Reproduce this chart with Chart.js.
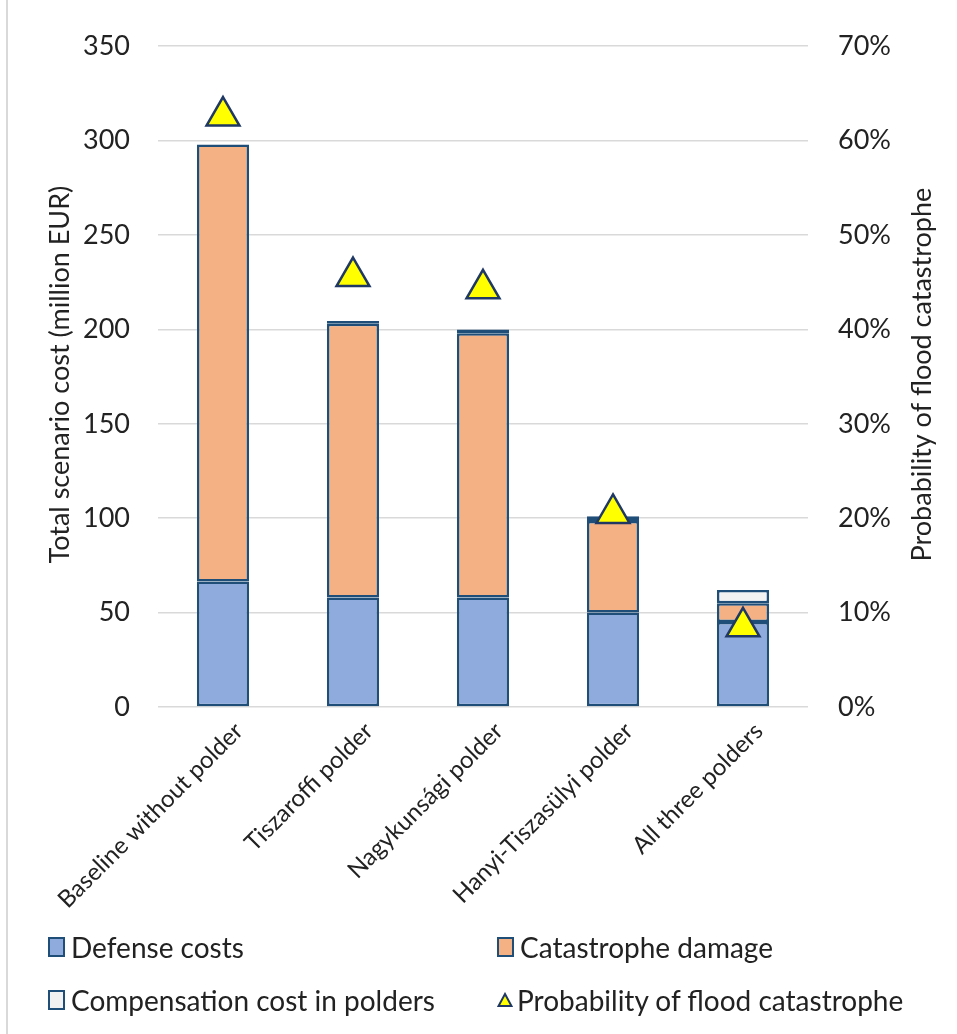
<!DOCTYPE html>
<html>
<head>
<meta charset="utf-8">
<script src="https://cdn.jsdelivr.net/npm/chart.js@4/dist/chart.umd.min.js"></script>
<style>
  html, body { margin: 0; padding: 0; background: #ffffff; }
  #wrap { position: relative; width: 957px; height: 1034px; overflow: hidden; }
  #frame { position: absolute; left: 6px; top: 0; width: 2px; height: 1034px; background: #d9d9d9; }
  canvas { position: absolute; left: 0; top: 0; }
  .leg { position: absolute; display: flex; align-items: center; font-family: Lato, "Open Sans", sans-serif;
         font-size: 28px; color: #222222; white-space: nowrap; line-height: 1; }
  .leg .sw { width: 13px; height: 16px; border: 2px solid #1f4e79; margin-right: 6px; flex: none; }
  .leg svg { margin-right: 4px; flex: none; }
</style>
</head>
<body>
<div id="wrap">
  <div id="frame"></div>
  <canvas id="c" width="957" height="1034"></canvas>
</div>
<script>
// Scenario names along the category axis
const categories = [
  'Baseline without polder',
  'Tiszaroffi polder',
  'Nagykunsági polder',
  'Hanyi-Tiszasülyi polder',
  'All three polders'
];

// Cost components, million EUR
const defenseCosts = [66.5, 58, 58, 50, 45];
const catastropheDamage = [231.5, 145, 140, 48.5, 10];
const compensationCost = [0, 1.5, 2, 2.5, 7];

// Probability of flood catastrophe, percent
const floodProbability = [62.6, 45.6, 44.3, 20.5, 8.5];

// Axis tick values
const costTicks = [0, 50, 100, 150, 200, 250, 300, 350];
const probabilityTicks = [0, 10, 20, 30, 40, 50, 60, 70];

const seriesNames = ['Defense costs', 'Catastrophe damage', 'Compensation cost in polders', 'Probability of flood catastrophe'];
const leftTitle = 'Total scenario cost (million EUR)';
const rightTitle = 'Probability of flood catastrophe';

const FONT = 'Lato, "Open Sans", sans-serif';
const TEXT = '#222222';
const EDGE = '#1f4e79';
const GRID = '#d9d9d9';

// Vertical axis titles, both reading bottom-to-top
const axisTitles = {
  id: 'axisTitles',
  afterDraw(chart) {
    const ctx = chart.ctx;
    const a = chart.chartArea;
    const midY = (a.top + a.bottom) / 2;
    ctx.save();
    ctx.font = '27px ' + FONT;
    ctx.fillStyle = TEXT;
    ctx.textAlign = 'center';
    ctx.textBaseline = 'middle';
    [[60, leftTitle], [922, rightTitle]].forEach(([x, t]) => {
      ctx.save();
      ctx.translate(x, midY - 2);
      ctx.rotate(-Math.PI / 2);
      ctx.fillText(t, 0, 0);
      ctx.restore();
    });
    ctx.restore();
  }
};

const barCommon = {
  type: 'bar',
  borderColor: EDGE,
  borderWidth: 2.5,
  borderSkipped: false,
  barPercentage: 0.4,
  categoryPercentage: 1,
  stack: 'cost',
  yAxisID: 'y',
  order: 2
};

const chart = new Chart(document.getElementById('c'), {
  data: {
    labels: categories,
    datasets: [
      Object.assign({}, barCommon, { label: seriesNames[0], data: defenseCosts, backgroundColor: '#8faadc' }),
      Object.assign({}, barCommon, { label: seriesNames[1], data: catastropheDamage, backgroundColor: '#f4b183' }),
      Object.assign({}, barCommon, { label: seriesNames[2], data: compensationCost, backgroundColor: '#f2f2f2' }),
      {
        type: 'line',
        label: seriesNames[3],
        data: floodProbability,
        yAxisID: 'y1',
        showLine: false,
        clip: false,
        pointStyle: 'triangle',
        pointRadius: 19,
        pointHoverRadius: 19,
        pointBackgroundColor: '#ffff00',
        pointBorderColor: '#203864',
        pointBorderWidth: 2.5,
        order: 0
      }
    ]
  },
  options: {
    responsive: false,
    devicePixelRatio: 1,
    animation: false,
    layout: { autoPadding: false, padding: { top: 42, bottom: 0, left: 0, right: 0 } },
    plugins: { legend: { display: false }, tooltip: { enabled: false } },
    scales: {
      x: {
        stacked: true,
        grid: { display: false, drawTicks: false },
        border: { display: false },
        ticks: {
          autoSkip: false,
          minRotation: 45,
          maxRotation: 45,
          padding: 10,
          labelOffset: 16,
          color: TEXT,
          font: { family: FONT, size: 24 }
        },
        afterFit(s) { s.height = 327; }
      },
      y: {
        position: 'left',
        stacked: true,
        min: 0,
        max: 350,
        afterBuildTicks(s) { s.ticks = costTicks.map(v => ({ value: v })); },
        grid: { color: GRID, lineWidth: 1.5, drawTicks: false },
        border: { display: false },
        ticks: { padding: 28, color: TEXT, font: { family: FONT, size: 27 } },
        afterFit(s) { s.width = 158; }
      },
      y1: {
        position: 'right',
        min: 0,
        max: 70,
        afterBuildTicks(s) { s.ticks = probabilityTicks.map(v => ({ value: v })); },
        grid: { display: false, drawTicks: false },
        border: { display: false },
        ticks: { padding: 30, color: TEXT, font: { family: FONT, size: 27 }, callback: v => v + '%' },
        afterFit(s) { s.width = 149; }
      }
    }
  },
  plugins: [axisTitles]
});

// Two-column legend under the plot
const wrap = document.getElementById('wrap');
const legendSpots = [[48, 947], [497, 947], [48, 1000], [497, 1000]];
chart.data.datasets.forEach((ds, i) => {
  const item = document.createElement('div');
  item.className = 'leg';
  item.style.left = legendSpots[i][0] + 'px';
  item.style.top = (legendSpots[i][1] - 14) + 'px';
  if (ds.type === 'bar') {
    const sw = document.createElement('span');
    sw.className = 'sw';
    sw.style.background = ds.backgroundColor;
    item.appendChild(sw);
  } else {
    item.insertAdjacentHTML('beforeend',
      '<svg width="16" height="16" viewBox="0 0 16 16"><polygon points="8,2 14.5,14 1.5,14" fill="' +
      ds.pointBackgroundColor + '" stroke="' + ds.pointBorderColor + '" stroke-width="2" stroke-linejoin="miter"/></svg>');
  }
  const label = document.createElement('span');
  label.textContent = ds.label;
  item.appendChild(label);
  wrap.appendChild(item);
});
</script>
</body>
</html>
